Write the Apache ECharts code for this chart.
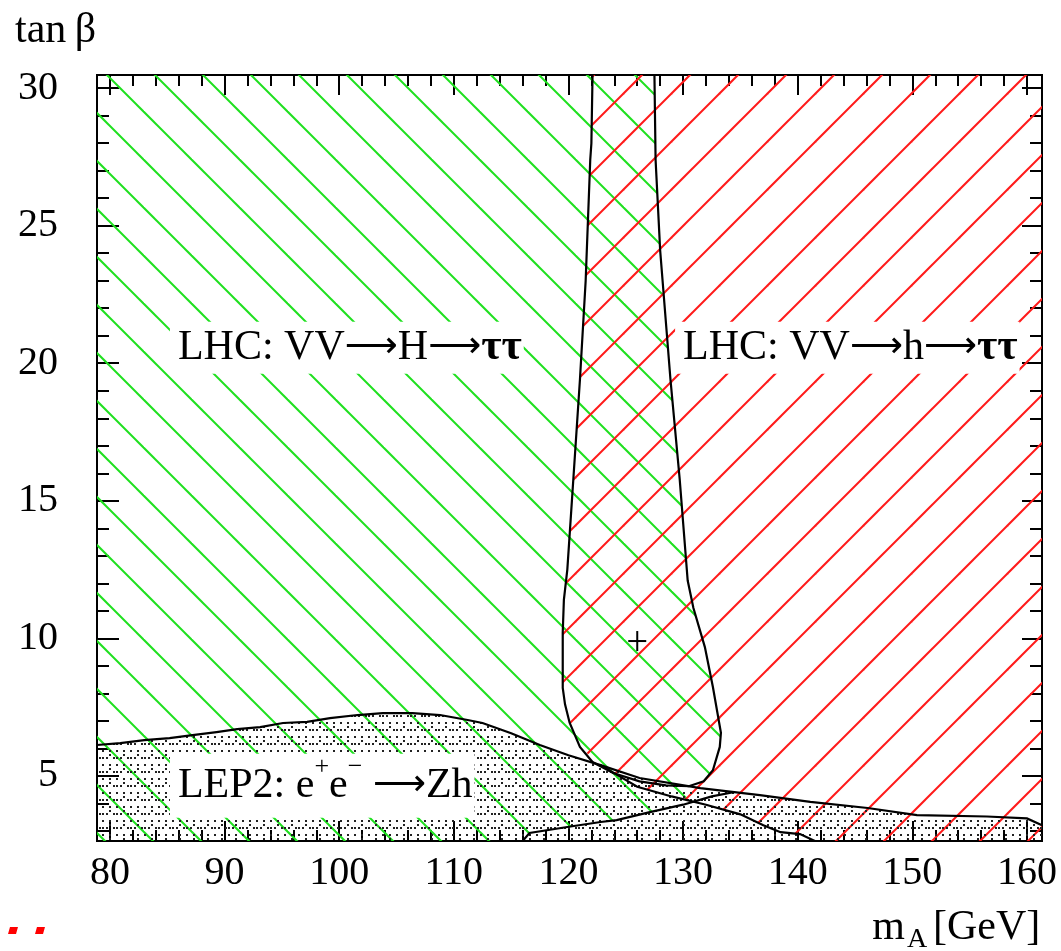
<!DOCTYPE html>
<html>
<head>
<meta charset="utf-8">
<script src="https://cdn.jsdelivr.net/npm/echarts@6/dist/echarts.min.js"></script>
<style>
  html, body { margin: 0; padding: 0; background: #fff; }
  #chart { width: 1061px; height: 951px; }
</style>
</head>
<body>
<div id="chart"></div>
<script>
// ---- axis extents and ticks ----
const xExtent = [78.87, 161.31];
const yExtent = [2.63, 30.48];
const xTickMajor = [80, 90, 100, 110, 120, 130, 140, 150, 160];
const xTickMinor = [82, 84, 86, 88, 92, 94, 96, 98, 102, 104, 106, 108, 112, 114, 116, 118,
                    122, 124, 126, 128, 132, 134, 136, 138, 142, 144, 146, 148, 152, 154, 156, 158];
const yTickMajor = [5, 10, 15, 20, 25, 30];
const yTickMinor = [3, 4, 6, 7, 8, 9, 11, 12, 13, 14, 16, 17, 18, 19, 21, 22, 23, 24, 26, 27, 28, 29];

// ---- LEP2 e+e- -> Zh excluded region: upper boundary ----
const lepX = [78.87, 80.9, 83.0, 85.2, 87.2, 89.3, 91.1, 93.1, 95.1, 97.2, 99.2, 101.6, 103.8, 106.4,
              108.8, 111.2, 112.5, 115.0, 117.5, 120.0, 122.8, 126.2, 131.5, 136.7, 141.1, 146.1,
              150.4, 156.5, 160.0, 161.31];
const lepY = [6.12, 6.19, 6.30, 6.37, 6.48, 6.59, 6.70, 6.77, 6.92, 6.96, 7.10, 7.21, 7.28, 7.28,
              7.21, 7.03, 6.92, 6.55, 6.12, 5.75, 5.39, 4.92, 4.55, 4.30, 4.05, 3.83,
              3.57, 3.52, 3.45, 3.20];

// ---- closed contour around the crossing region (open at the top edge) ----
const contourX = [122.1, 122.0, 121.9, 121.5, 121.0, 120.3, 119.9, 119.6, 119.5, 119.5, 119.7, 120.1,
                  121.0, 122.1, 123.9, 126.2, 128.5, 130.5, 131.8, 132.6, 133.2, 133.3, 132.6, 131.9,
                  130.9, 130.4, 129.7, 128.9, 128.0, 127.6, 127.5];
const contourY = [30.48, 28.0, 27.4, 23.0, 19.4, 15.0, 12.5, 11.4, 10.2, 8.2, 7.6, 6.93,
                  6.05, 5.5, 5.1, 4.8, 4.65, 4.62, 4.8, 5.2, 6.05, 6.56, 8.23, 9.68,
                  11.1, 12.1, 15.8, 19.4, 24.1, 27.4, 30.48];

// ---- lower boundary lines ----
const lineAX = [116.0, 116.6, 119.9, 122.8, 124.2, 127.1, 130.0, 132.5, 134.5];
const lineAY = [2.63, 2.92, 3.14, 3.32, 3.39, 3.68, 3.95, 4.25, 4.41];
const lineBX = [122.8, 126.0, 129.0, 132.0, 135.0, 137.0, 138.5, 140.2, 141.5];
const lineBY = [5.39, 4.60, 4.25, 3.95, 3.60, 3.20, 2.95, 2.88, 2.63];

// ---- LHC: VV -> H -> tautau reach (green) ----
const greenX = [78.87, 78.87, 127.5, 127.6, 128.0, 128.9, 129.7, 130.4, 130.9, 131.9, 132.6, 133.3,
                133.2, 132.6, 131.5, 130.0, 127.1, 124.2, 122.8, 119.9, 116.6, 116.0];
const greenY = [2.63, 30.48, 30.48, 27.4, 24.1, 19.4, 15.8, 12.1, 11.1, 9.68, 8.23, 6.56,
                6.05, 5.2, 4.5, 4.1, 3.68, 3.39, 3.32, 3.14, 2.92, 2.63];

// ---- LHC: VV -> h -> tautau reach (red) ----
const redX = [122.1, 161.31, 161.31, 141.5, 140.2, 138.5, 137.0, 135.0, 132.0, 129.0, 126.0, 122.8,
              121.0, 120.1, 119.7, 119.5, 119.5, 119.6, 119.9, 120.3, 121.0, 121.5, 121.9, 122.0];
const redY = [30.48, 30.48, 2.63, 2.63, 2.88, 2.95, 3.20, 3.60, 3.95, 4.25, 4.60, 5.39,
              6.05, 6.93, 7.6, 8.2, 10.2, 11.4, 12.5, 15.0, 19.4, 23.0, 27.4, 28.0];

// ---- marked point ----
const pointX = [126.0];
const pointY = [9.9];

// ---- region labels ----
const labelTexts = ['LHC: VV{ar|⟶}H{ar|⟶}{b|ττ}', 'LHC: VV{ar|⟶}h{ar|⟶}{b|ττ}',
                    'LEP2: e{sup|+}e{sup|−} {ar|⟶}Zh'];
const labelX = [85.93, 130.0, 85.93];
const labelY = [20.05, 20.05, 4.12];

// ---- fill patterns ----
function hatchCanvas(color, rising, phase) {
  const c = document.createElement('canvas');
  c.width = 48; c.height = 48;
  const ctx = c.getContext('2d');
  ctx.strokeStyle = color;
  ctx.lineWidth = 2;
  for (const k of [-1, 0, 1]) {
    const v = phase + k * 48;
    ctx.beginPath();
    if (rising) { ctx.moveTo(-48, v + 48); ctx.lineTo(v + 48, -48); }
    else { ctx.moveTo(v - 48, -48); ctx.lineTo(v + 96, 96); }
    ctx.stroke();
  }
  return c;
}
function dotCanvas() {
  const c = document.createElement('canvas');
  c.width = 14; c.height = 14;
  const ctx = c.getContext('2d');
  ctx.fillStyle = '#222';
  const dots = [[1, 1], [8, 1], [4, 8], [11, 8], [4, 1], [11, 12]];
  for (const d of dots) ctx.fillRect(d[0], d[1], 2, 2);
  return c;
}
const greenHatch = { image: hatchCanvas('#1fe01f', false, 32), repeat: 'repeat' };
const redHatch = { image: hatchCanvas('#ff1a1a', true, 45), repeat: 'repeat' };
const dotFill = { image: dotCanvas(), repeat: 'repeat' };

const FONT = 'Liberation Serif';
const MID = 0.3375; // middle-to-baseline ratio of the serif face

function pts(api, xs, ys) { return xs.map((x, i) => api.coord([x, ys[i]])); }

function areaSeries(xs, ys, fill, z) {
  return {
    type: 'custom', xAxisIndex: 0, yAxisIndex: 0, z: z, silent: true,
    data: [[xs[0], ys[0]]],
    renderItem: (params, api) => ({
      type: 'polygon',
      shape: { points: pts(api, xs, ys) },
      style: { fill: fill, stroke: null }
    })
  };
}
function lineSeries(xs, ys, z) {
  return {
    type: 'custom', xAxisIndex: 0, yAxisIndex: 0, z: z, silent: true,
    data: [[xs[0], ys[0]]],
    renderItem: (params, api) => ({
      type: 'polyline',
      shape: { points: pts(api, xs, ys) },
      style: { stroke: '#000', lineWidth: 2.2, fill: null }
    })
  };
}

function xAxisDef(position, ticks, len, withLabels) {
  return {
    type: 'value', min: xExtent[0], max: xExtent[1], position: position,
    axisLine: { show: true, onZero: false, lineStyle: { color: '#000', width: 2 } },
    axisTick: { show: true, inside: true, length: len, customValues: ticks,
                lineStyle: { color: '#000', width: 2 } },
    axisLabel: withLabels ? {
      show: true, customValues: ticks, margin: 12, color: '#000',
      fontFamily: FONT, fontSize: 40
    } : { show: false },
    splitLine: { show: false }
  };
}
function yAxisDef(position, ticks, len, withLabels) {
  return {
    type: 'value', min: yExtent[0], max: yExtent[1], position: position,
    axisLine: { show: true, onZero: false, lineStyle: { color: '#000', width: 2 } },
    axisTick: { show: true, inside: true, length: len, customValues: ticks,
                lineStyle: { color: '#000', width: 2 } },
    axisLabel: withLabels ? {
      show: true, customValues: ticks, margin: 39, color: '#000',
      fontFamily: FONT, fontSize: 40
    } : { show: false },
    splitLine: { show: false }
  };
}

const labelLineHeights = [52, 52, 64];

const chart = echarts.init(document.getElementById('chart'), null, { renderer: 'canvas' });
chart.setOption({
  animation: false,
  backgroundColor: '#fff',
  grid: { left: 97, right: 19, top: 75, bottom: 110, containLabel: false },
  xAxis: [
    xAxisDef('bottom', xTickMajor, 20, true),
    xAxisDef('bottom', xTickMinor, 11, false),
    xAxisDef('top', xTickMajor, 20, false),
    xAxisDef('top', xTickMinor, 11, false)
  ],
  yAxis: [
    yAxisDef('left', yTickMajor, 22, true),
    yAxisDef('left', yTickMinor, 12, false),
    yAxisDef('right', yTickMajor, 20, false),
    yAxisDef('right', yTickMinor, 12, false)
  ],
  series: [
    areaSeries(greenX, greenY, greenHatch, 2),
    areaSeries(redX, redY, redHatch, 3),
    areaSeries(lepX.concat([xExtent[1], xExtent[0]]), lepY.concat([yExtent[0], yExtent[0]]), dotFill, 4),
    lineSeries(lepX, lepY, 5),
    lineSeries(contourX, contourY, 5),
    lineSeries(lineAX, lineAY, 5),
    lineSeries(lineBX, lineBY, 5),
    {
      type: 'custom', xAxisIndex: 0, yAxisIndex: 0, z: 6, silent: true,
      data: pointX.map((x, i) => [x, pointY[i]]),
      renderItem: (params, api) => {
        const p = api.coord([api.value(0), api.value(1)]);
        return {
          type: 'group',
          children: [
            { type: 'line', shape: { x1: p[0] - 9, y1: p[1], x2: p[0] + 9, y2: p[1] },
              style: { stroke: '#000', lineWidth: 2 } },
            { type: 'line', shape: { x1: p[0], y1: p[1] - 10, x2: p[0], y2: p[1] + 10 },
              style: { stroke: '#000', lineWidth: 2 } }
          ]
        };
      }
    },
    {
      type: 'custom', xAxisIndex: 0, yAxisIndex: 0, z: 7, silent: true,
      data: labelX.map((x, i) => [x, labelY[i]]),
      renderItem: (params, api) => {
        const i = params.dataIndex;
        const p = api.coord([api.value(0), api.value(1)]);
        const lh = labelLineHeights[i];
        return {
          type: 'text',
          x: p[0] - 8,
          y: p[1] - (lh / 2 + MID * 42),
          style: {
            text: labelTexts[i],
            fontFamily: FONT, fontSize: 42, lineHeight: lh, fill: '#000',
            align: 'left', verticalAlign: 'top',
            textAlign: 'left', textVerticalAlign: 'top',
            backgroundColor: '#fff', padding: [0, 2, 0, 8],
            rich: {
              b: { fontFamily: FONT, fontSize: 44, fontWeight: 'bold', lineHeight: lh },
              ar: { fontFamily: 'DejaVu Sans', fontSize: 37, lineHeight: lh },
              sup: { fontFamily: FONT, fontSize: 26, lineHeight: 26, verticalAlign: 'top' }
            }
          }
        };
      }
    }
  ],
  graphic: [
    { type: 'text', x: 15, y: 10, silent: true,
      style: { text: 'tan\u2009β', font: '42px "Liberation Serif"', fill: '#000',
               align: 'left', verticalAlign: 'top', textAlign: 'left', textVerticalAlign: 'top' } },
    { type: 'text', x: 905, y: 907, silent: true,
      style: { text: 'm', font: '42px "Liberation Serif"', fill: '#000',
               align: 'right', verticalAlign: 'top', textAlign: 'right', textVerticalAlign: 'top' } },
    { type: 'text', x: 907, y: 926, silent: true,
      style: { text: 'A', font: '28px "Liberation Serif"', fill: '#000',
               align: 'left', verticalAlign: 'top', textAlign: 'left', textVerticalAlign: 'top' } },
    { type: 'text', x: 933, y: 907, silent: true,
      style: { text: '[GeV]', font: '42px "Liberation Serif"', fill: '#000',
               align: 'left', verticalAlign: 'top', textAlign: 'left', textVerticalAlign: 'top' } },
    { type: 'polygon', silent: true,
      shape: { points: [[10, 927], [18, 927], [16, 934], [8, 934]] }, style: { fill: '#ff0000' } },
    { type: 'polygon', silent: true,
      shape: { points: [[37, 927], [45, 927], [43, 934], [35, 934]] }, style: { fill: '#ff0000' } }
  ]
});
</script>
</body>
</html>
